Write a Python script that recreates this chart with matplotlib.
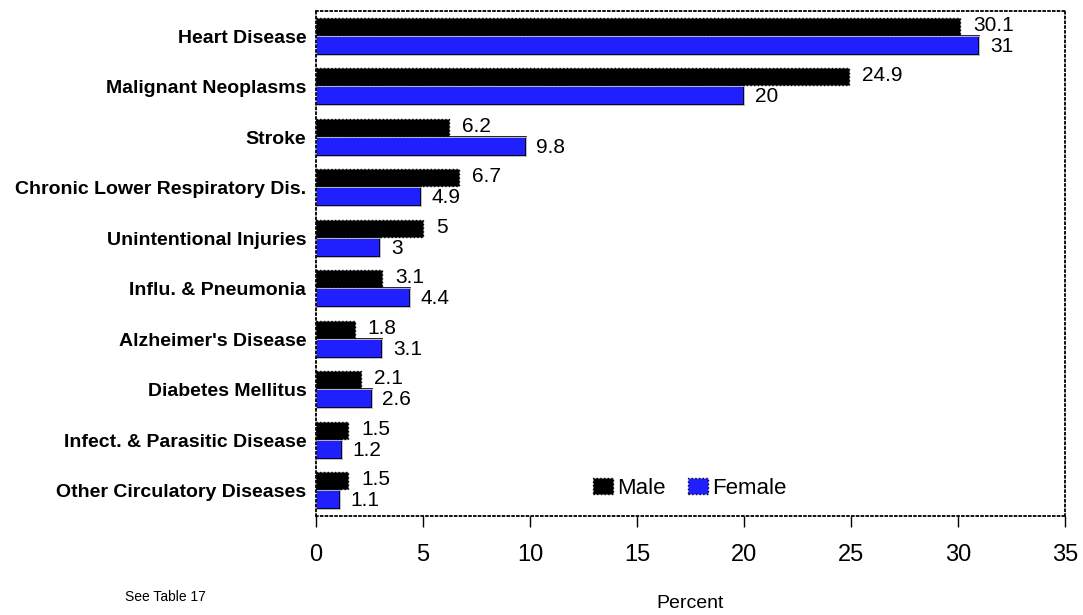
import matplotlib.pyplot as plt
import numpy as np
from matplotlib.patches import Patch

plt.rcParams['font.family'] = ['Liberation Sans', 'DejaVu Sans']

causes = ["Heart Disease", "Malignant Neoplasms", "Stroke",
          "Chronic Lower Respiratory Dis.", "Unintentional Injuries",
          "Influ. & Pneumonia", "Alzheimer's Disease", "Diabetes Mellitus",
          "Infect. & Parasitic Disease", "Other Circulatory Diseases"]
male = [30.1, 24.9, 6.2, 6.7, 5, 3.1, 1.8, 2.1, 1.5, 1.5]
female = [31, 20, 9.8, 4.9, 3, 4.4, 3.1, 2.6, 1.2, 1.1]
male_lbl = ["30.1", "24.9", "6.2", "6.7", "5", "3.1", "1.8", "2.1", "1.5", "1.5"]
female_lbl = ["31", "20", "9.8", "4.9", "3", "4.4", "3.1", "2.6", "1.2", "1.1"]

fig = plt.figure(figsize=(10.83, 6.15), dpi=100)
ax = fig.add_axes([0.2918, 0.161, 0.6916, 0.821])

n = len(causes)
y = np.arange(n)
ax.barh(y - 0.2, male, height=0.34, color='black', edgecolor='black',
        linewidth=1, linestyle=':')
ax.barh(y + 0.18, female, height=0.38, color='#2020ff', edgecolor='black',
        linewidth=1.2)
ax.barh(y + 0.18, female, height=0.38, color='none', edgecolor='white',
        linewidth=0.5)

for i in range(n):
    ax.text(male[i] + 0.6, y[i] - 0.22, male_lbl[i], va='center', ha='left',
            fontsize=15)
    ax.text(female[i] + 0.5, y[i] + 0.2, female_lbl[i], va='center', ha='left',
            fontsize=15)

ax.set_xlim(0, 35)
ax.set_ylim(n - 0.5, -0.5)
ax.set_xticks(np.arange(0, 36, 5))
ax.set_xticklabels([str(v) for v in range(0, 36, 5)], fontsize=17)
ax.set_yticks(y)
ax.set_yticklabels(causes, fontsize=14, fontweight='bold')
ax.tick_params(axis='y', length=0, pad=7)
ax.tick_params(axis='x', length=8, width=1, direction='out', pad=12)
for s in ax.spines.values():
    s.set_linestyle(':')
    s.set_linewidth(1.3)

fig.text(0.637, 0.018, "Percent", fontsize=14, ha='center', va='center')

handles = [Patch(facecolor='black', edgecolor='black', linestyle=':'),
           Patch(facecolor='#2020ff', edgecolor='black', linestyle=':')]
ax.legend(handles, ["Male", "Female"], loc='lower left',
          bbox_to_anchor=(0.343, -0.005), ncol=2, frameon=False, fontsize=16,
          handlelength=0.9, handleheight=0.7, handletextpad=0.2,
          columnspacing=1.0)

fig.text(0.115, 0.022, "See Table 17", fontsize=10)

fig.savefig("out.png")
